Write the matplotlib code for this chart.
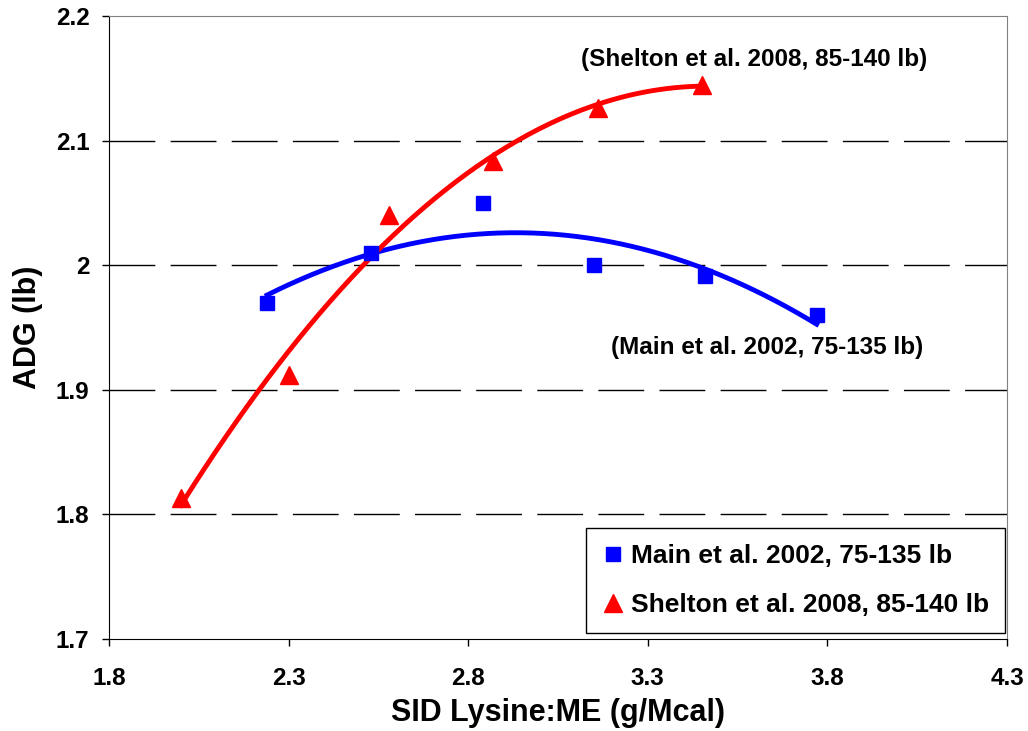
import numpy as np
import matplotlib
matplotlib.use("Agg")
import matplotlib.pyplot as plt

plt.rcParams['font.family'] = ['Liberation Sans', 'DejaVu Sans']
plt.rcParams['font.weight'] = 'bold'

# data
main_x = [2.24, 2.53, 2.84, 3.15, 3.46, 3.77]
main_y = [1.970, 2.010, 2.050, 2.000, 1.991, 1.960]
shelton_x = [2.00, 2.30, 2.58, 2.87, 3.16, 3.45]
shelton_y = [1.813, 1.912, 2.040, 2.084, 2.126, 2.145]

main_label = "Main et al. 2002, 75-135 lb"
shelton_label = "Shelton et al. 2008, 85-140 lb"

fig = plt.figure(figsize=(10.28, 7.31), dpi=100)
ax = fig.add_axes([0.106, 0.126, 0.8736, 0.852])

# quadratic trend lines
for xs, ys, col in [(main_x, main_y, 'blue'), (shelton_x, shelton_y, 'red')]:
    coef = np.polyfit(xs, ys, 2)
    xx = np.linspace(min(xs), max(xs), 200)
    ax.plot(xx, np.polyval(coef, xx), color=col, lw=3.5, zorder=3)

ax.plot(main_x, main_y, 's', color='blue', ms=10, mec='blue', label=main_label, zorder=4)
ax.plot(shelton_x, shelton_y, '^', color='red', ms=13, mec='red', label=shelton_label, zorder=4)

ax.set_xlim(1.8, 4.3)
ax.set_ylim(1.7, 2.2)
ax.set_xticks([1.8, 2.3, 2.8, 3.3, 3.8, 4.3])
ax.set_yticks([1.7, 1.8, 1.9, 2.0, 2.1, 2.2])
ax.set_xticklabels(['1.8', '2.3', '2.8', '3.3', '3.8', '4.3'])
ax.set_yticklabels(['1.7', '1.8', '1.9', '2', '2.1', '2.2'])
ax.tick_params(axis='both', direction='out', length=5, width=1, labelsize=17.5)
ax.tick_params(axis='x', pad=15)
ax.tick_params(axis='y', pad=9)

for yv in [1.8, 1.9, 2.0, 2.1]:
    ax.axhline(yv, color='black', lw=1, dashes=(33, 11), zorder=1)

for s in ['top', 'right']:
    ax.spines[s].set_color('#808080')
for s in ['left', 'bottom']:
    ax.spines[s].set_color('black')

ax.set_xlabel('SID Lysine:ME (g/Mcal)', fontsize=22, fontweight='bold', labelpad=6)
ax.set_ylabel('ADG (lb)', fontsize=22, fontweight='bold', labelpad=9)

ax.text(3.596, 2.1655, '(' + shelton_label + ')', fontsize=17.5, fontweight='bold', ha='center', va='center')
ax.text(3.632, 1.9343, '(' + main_label + ')', fontsize=17.5, fontweight='bold', ha='center', va='center')

leg = ax.legend(loc='lower right', bbox_to_anchor=(0.998, 0.01), borderaxespad=0,
                fontsize=19, frameon=True, fancybox=False, framealpha=1,
                edgecolor='black', handlelength=0.8, handletextpad=0.3,
                labelspacing=0.95, borderpad=0.6, markerscale=1.0)
leg.get_frame().set_linewidth(1)

fig.savefig('out.png', dpi=100)
